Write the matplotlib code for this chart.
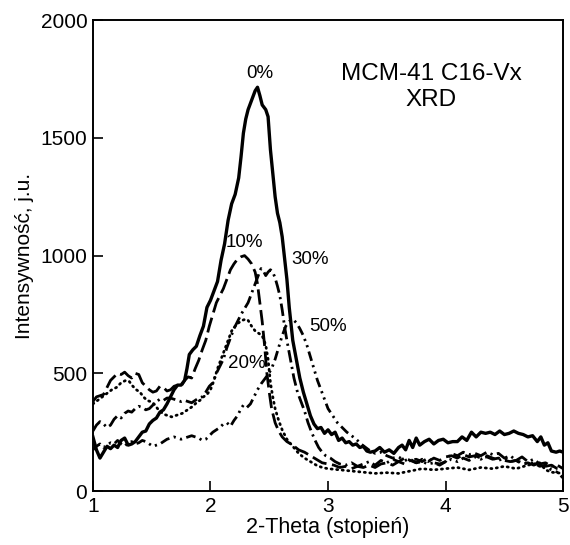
import matplotlib
matplotlib.use('Agg')
import matplotlib.pyplot as plt

plt.rcParams['font.family'] = ['Liberation Sans', 'DejaVu Sans']

# 0% - solid
x0 = [1.00, 1.03, 1.06, 1.09, 1.12, 1.15, 1.18, 1.21, 1.24, 1.27, 1.30, 1.33, 1.36, 1.39, 1.42,
      1.45, 1.48, 1.51, 1.54, 1.57, 1.60, 1.63, 1.66, 1.69, 1.72, 1.75, 1.78, 1.80, 1.82, 1.85,
      1.88, 1.91, 1.94, 1.97, 2.00, 2.03, 2.06, 2.09, 2.12, 2.15, 2.18, 2.21, 2.24, 2.26, 2.28,
      2.30, 2.32, 2.35, 2.38, 2.40, 2.42, 2.44, 2.47, 2.49, 2.51, 2.53, 2.55, 2.57, 2.59, 2.61,
      2.63, 2.65, 2.67, 2.70, 2.73, 2.76, 2.79, 2.82, 2.85, 2.88, 2.91, 2.94, 2.97, 3.00, 3.03,
      3.06, 3.09, 3.12, 3.15, 3.18, 3.21, 3.24, 3.27, 3.30, 3.33, 3.36, 3.40, 3.44, 3.48, 3.52,
      3.56, 3.60, 3.63, 3.66, 3.69, 3.72, 3.75, 3.78, 3.82, 3.86, 3.90, 3.94, 3.98, 4.02, 4.06,
      4.10, 4.14, 4.18, 4.22, 4.26, 4.30, 4.34, 4.38, 4.42, 4.46, 4.50, 4.54, 4.58, 4.62, 4.66,
      4.70, 4.74, 4.78, 4.81, 4.84, 4.87, 4.90, 4.94, 4.97, 5.00]
y0 = [230, 175, 140, 165, 190, 180, 195, 185, 215, 225, 195, 200, 210, 230, 250,
      255, 285, 300, 310, 335, 345, 370, 400, 430, 450, 450, 470, 520, 580, 600,
      615, 660, 700, 780, 810, 850, 890, 980, 1050, 1150, 1220, 1260, 1330, 1420, 1520,
      1580, 1620, 1660, 1700, 1715, 1680, 1640, 1620, 1590, 1450, 1350, 1250, 1180, 1140, 1080,
      990, 900, 780, 640, 560, 480, 420, 370, 320, 285, 265, 270, 245, 260, 240,
      250, 215, 225, 205, 210, 195, 200, 185, 190, 170, 165, 170, 185, 165, 175,
      160, 185, 195, 175, 215, 185, 225, 195, 210, 220, 200, 215, 220, 205, 210,
      210, 230, 215, 250, 230, 250, 245, 250, 240, 255, 240, 245, 255, 245, 240,
      230, 235, 210, 230, 195, 205, 170, 165, 170, 165]

# 10% - dashed
x10 = [1.00, 1.03, 1.06, 1.09, 1.12, 1.15, 1.18, 1.21, 1.24, 1.27, 1.30, 1.33, 1.36, 1.39, 1.42,
       1.45, 1.48, 1.51, 1.54, 1.57, 1.60, 1.63, 1.66, 1.69, 1.72, 1.75, 1.78, 1.81, 1.84, 1.87,
       1.90, 1.93, 1.96, 1.99, 2.02, 2.05, 2.08, 2.11, 2.14, 2.17, 2.20, 2.23, 2.26, 2.29, 2.32,
       2.35, 2.38, 2.40, 2.42, 2.44, 2.46, 2.48, 2.50, 2.52, 2.55, 2.58, 2.61, 2.65, 2.70, 2.75,
       2.80, 2.85, 2.90, 2.95, 3.00, 3.05, 3.10, 3.15, 3.20, 3.25, 3.30, 3.35, 3.40, 3.45, 3.50,
       3.55, 3.60, 3.65, 3.70, 3.75, 3.80, 3.85, 3.90, 3.95, 4.00, 4.05, 4.10, 4.15, 4.20, 4.25,
       4.30, 4.35, 4.40, 4.45, 4.50, 4.55, 4.60, 4.65, 4.70, 4.75, 4.80, 4.85, 4.90, 4.95, 5.00]
y10 = [380, 400, 405, 410, 440, 470, 485, 500, 495, 505, 490, 480, 500, 495, 460,
       445, 430, 420, 425, 445, 440, 425, 430, 445, 450, 445, 470, 485, 480, 520,
       555, 600, 640, 700, 750, 800, 830, 860, 900, 940, 965, 985, 995, 1000, 985,
       965, 930, 880, 800, 720, 620, 500, 420, 350, 290, 255, 230, 210, 195, 175,
       165, 150, 135, 120, 115, 110, 100, 105, 95, 105, 100, 110, 100, 115, 120,
       110, 125, 115, 130, 120, 135, 125, 140, 130, 145, 150, 140, 155, 145, 150,
       140, 145, 135, 140, 130, 125, 130, 115, 120, 110, 120, 105, 110, 95, 90]

# 20% - dotted
x20 = [1.00, 1.04, 1.08, 1.12, 1.16, 1.20, 1.24, 1.28, 1.31, 1.34, 1.37, 1.40, 1.43, 1.46, 1.49,
       1.52, 1.55, 1.58, 1.61, 1.64, 1.67, 1.70, 1.73, 1.76, 1.79, 1.82, 1.85, 1.88, 1.91, 1.94,
       1.97, 2.00, 2.03, 2.06, 2.09, 2.12, 2.15, 2.18, 2.21, 2.24, 2.27, 2.30, 2.32, 2.35, 2.38,
       2.41, 2.44, 2.47, 2.49, 2.51, 2.53, 2.55, 2.58, 2.61, 2.65, 2.70, 2.75, 2.80, 2.85, 2.90,
       2.95, 3.00, 3.10, 3.20, 3.30, 3.40, 3.50, 3.60, 3.70, 3.80, 3.90, 4.00, 4.10, 4.20, 4.30,
       4.40, 4.50, 4.60, 4.70, 4.80, 4.85, 4.90, 5.00]
y20 = [370, 385, 400, 415, 430, 440, 460, 470, 465, 445, 430, 420, 400, 385, 380,
       370, 350, 335, 325, 320, 315, 320, 325, 330, 340, 350, 360, 375, 385, 400,
       410, 430, 470, 520, 560, 600, 640, 680, 700, 715, 725, 730, 725, 700, 680,
       670, 660, 620, 560, 460, 400, 350, 300, 260, 220, 190, 160, 140, 125, 110,
       100, 95, 90, 85, 80, 75, 78, 75, 85, 95, 90, 95, 100, 90, 100,
       95, 105, 95, 110, 120, 90, 80, 75]

# 30% - dash-dot
x30 = [1.00, 1.03, 1.06, 1.09, 1.12, 1.15, 1.18, 1.21, 1.24, 1.27, 1.30, 1.33, 1.36, 1.39, 1.42,
       1.45, 1.48, 1.51, 1.54, 1.57, 1.60, 1.63, 1.66, 1.69, 1.72, 1.75, 1.78, 1.81, 1.84, 1.87,
       1.90, 1.93, 1.96, 1.99, 2.02, 2.05, 2.08, 2.11, 2.14, 2.17, 2.20, 2.23, 2.26, 2.29, 2.32,
       2.35, 2.38, 2.41, 2.43, 2.45, 2.47, 2.49, 2.51, 2.53, 2.55, 2.57, 2.59, 2.61, 2.63, 2.65,
       2.68, 2.71, 2.74, 2.77, 2.80, 2.83, 2.86, 2.89, 2.92, 2.95, 2.98, 3.02, 3.06, 3.10, 3.15,
       3.20, 3.25, 3.30, 3.35, 3.40, 3.45, 3.50, 3.55, 3.60, 3.65, 3.70, 3.75, 3.80, 3.85, 3.90,
       3.95, 4.00, 4.05, 4.10, 4.15, 4.20, 4.25, 4.30, 4.35, 4.40, 4.45, 4.50, 4.55, 4.60, 4.65,
       4.70, 4.75, 4.80, 4.85, 4.90, 4.95, 5.00]
y30 = [255, 280, 295, 285, 270, 280, 305, 320, 310, 330, 340, 335, 350, 360, 355,
       345, 350, 365, 380, 390, 385, 395, 395, 390, 385, 380, 385, 380, 375, 385,
       395, 400, 420, 445, 460, 500, 530, 560, 610, 650, 690, 720, 750, 775, 800,
       840, 880, 920, 945, 935, 915, 930, 940, 930, 905, 870, 830, 770, 700, 640,
       560, 480, 420, 380, 340, 290, 250, 215, 185, 165, 150, 140, 125, 115, 110,
       120, 105, 115, 125, 110, 130, 120, 135, 125, 140, 130, 135, 125, 140, 120,
       115, 125, 160, 150, 165, 155, 160, 150, 165, 155, 160, 140, 150, 130, 145,
       125, 135, 115, 120, 105, 110, 95]

# 50% - dash-dot-dot
x50 = [1.00, 1.03, 1.06, 1.09, 1.12, 1.15, 1.18, 1.21, 1.24, 1.27, 1.30, 1.33, 1.36, 1.39, 1.42,
       1.45, 1.48, 1.51, 1.54, 1.57, 1.60, 1.63, 1.66, 1.69, 1.72, 1.75, 1.78, 1.81, 1.84, 1.87,
       1.90, 1.93, 1.96, 1.99, 2.02, 2.05, 2.08, 2.11, 2.14, 2.17, 2.20, 2.23, 2.26, 2.28, 2.31,
       2.34, 2.37, 2.40, 2.43, 2.46, 2.49, 2.52, 2.55, 2.58, 2.61, 2.64, 2.67, 2.70, 2.73, 2.76,
       2.79, 2.82, 2.85, 2.88, 2.91, 2.94, 2.97, 3.00, 3.04, 3.08, 3.12, 3.16, 3.20, 3.24, 3.28,
       3.32, 3.36, 3.40, 3.45, 3.50, 3.55, 3.60, 3.65, 3.70, 3.75, 3.80, 3.85, 3.90, 3.95, 4.00,
       4.05, 4.10, 4.15, 4.20, 4.25, 4.30, 4.35, 4.40, 4.45, 4.50, 4.55, 4.60, 4.65, 4.70, 4.75,
       4.80, 4.85, 4.90, 4.95, 5.00]
y50 = [175, 190, 200, 185, 195, 205, 200, 215, 200, 190, 205, 210, 200, 205, 215,
       210, 200, 190, 195, 200, 210, 220, 225, 230, 225, 220, 225, 230, 235, 230,
       225, 215, 220, 235, 250, 260, 270, 285, 290, 275, 300, 320, 350, 365, 355,
       370, 400, 430, 455, 475, 495, 520, 560, 610, 660, 700, 720, 730, 715, 690,
       660, 620, 570, 520, 470, 430, 390, 350, 320, 290, 270, 250, 235, 220, 200,
       185, 170, 160, 165, 150, 140, 145, 130, 135, 120, 125, 115, 120, 110, 125,
       135, 125, 140, 130, 145, 135, 150, 140, 130, 140, 125, 130, 120, 115, 120,
       105, 110, 90, 80, 55]

labels = ['0%', '10%', '20%', '30%', '50%']
label_x = [2.42, 2.29, 2.31, 2.85, 3.00]
label_y = [1772, 1055, 543, 982, 698]

fig = plt.figure(figsize=(5.7, 5.45), dpi=100)
ax = fig.add_axes([0.163, 0.099, 0.825, 0.864])

ax.plot(x0, y0, color='black', linewidth=2.4, linestyle='-')
ax.plot(x10, y10, color='black', linewidth=2.0, linestyle=(0, (5.5, 2)))
ax.plot(x20, y20, color='black', linewidth=2.0, linestyle=(0, (0.4, 1.6)),
        dash_capstyle='round')
ax.plot(x30, y30, color='black', linewidth=2.0, linestyle=(0, (4.5, 1.6, 0.8, 1.6)))
ax.plot(x50, y50, color='black', linewidth=2.0,
        linestyle=(0, (3.5, 1.6, 0.8, 1.6, 0.8, 1.6)))

for lab, lx, ly in zip(labels, label_x, label_y):
    ax.text(lx, ly, lab, fontsize=13.5, ha='center', va='center')

ax.text(3.88, 1772, 'MCM-41 C16-Vx', fontsize=17.5, ha='center', va='center')
ax.text(3.88, 1662, 'XRD', fontsize=17.5, ha='center', va='center')

ax.set_xlim(1, 5)
ax.set_ylim(0, 2000)
ax.set_xticks([1, 2, 3, 4, 5])
ax.set_yticks([0, 500, 1000, 1500, 2000])
ax.tick_params(direction='in', length=7, width=1.2, labelsize=15, pad=4)
ax.set_xlabel('2-Theta (stopień)', fontsize=15.5, labelpad=1)
ax.set_ylabel('Intensywność, j.u.', fontsize=15, labelpad=5)
for sp in ax.spines.values():
    sp.set_linewidth(1.4)

plt.savefig('out.png', dpi=100)
